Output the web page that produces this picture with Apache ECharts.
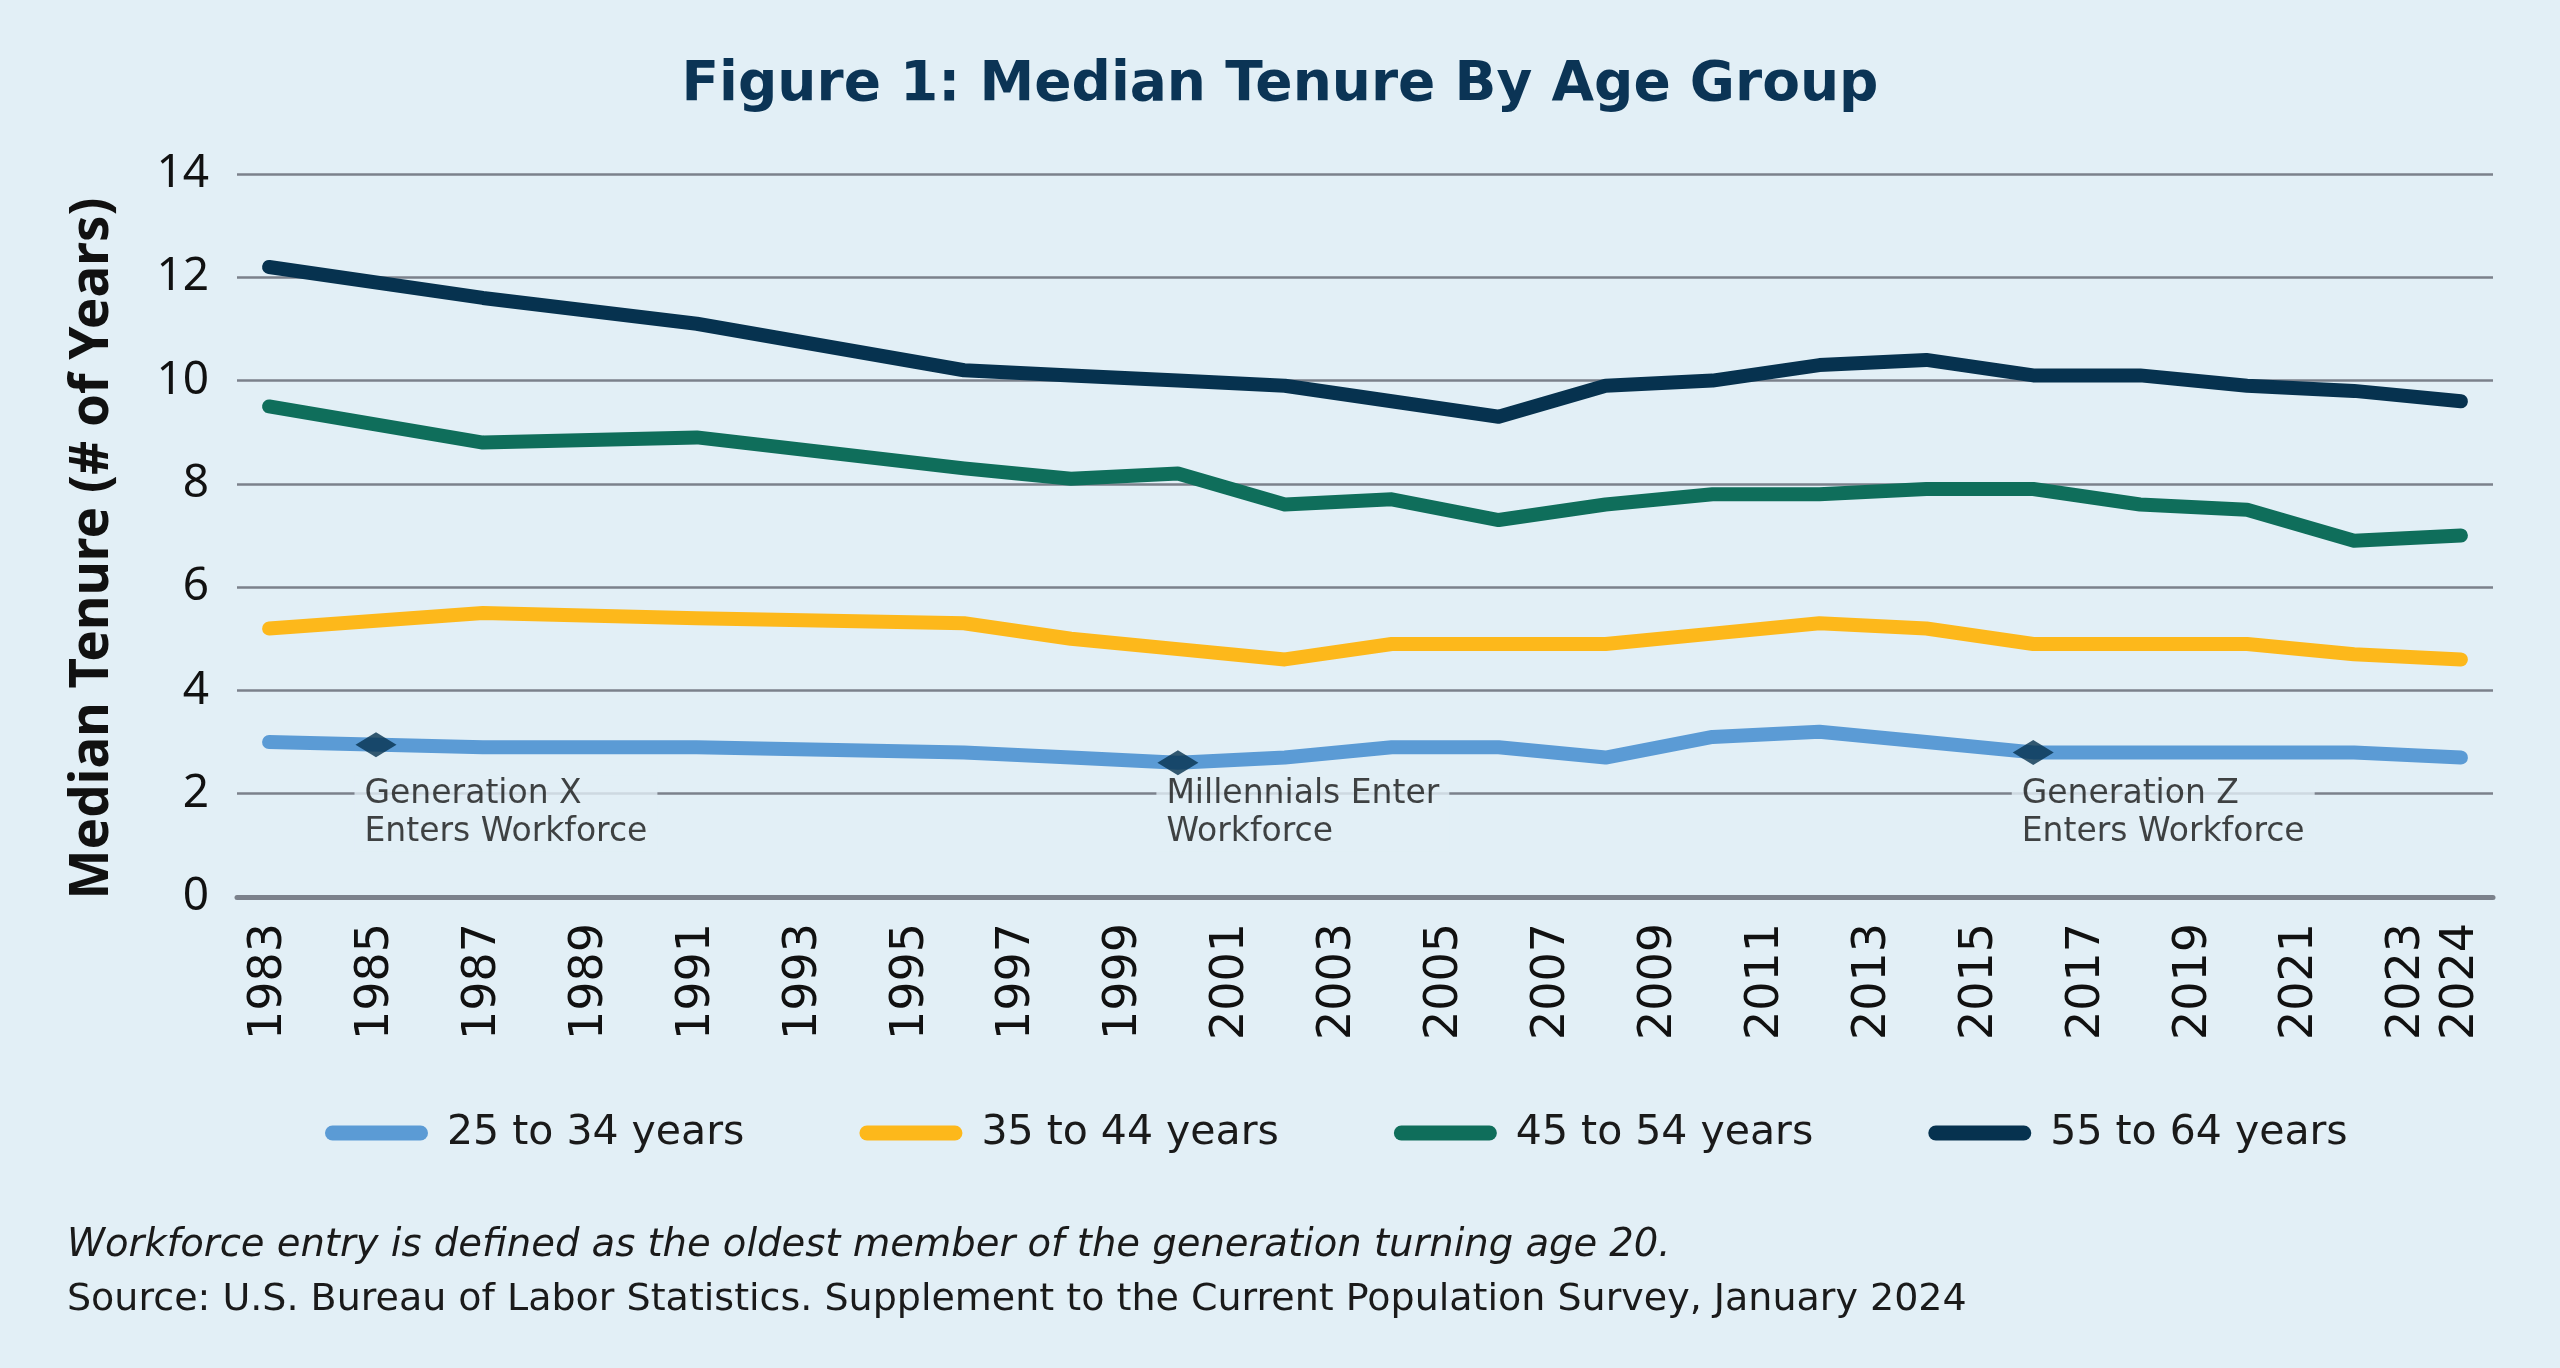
<!DOCTYPE html>
<html>
<head>
<meta charset="utf-8">
<style>
html,body{margin:0;padding:0;background:#e2eff6;}
#chart{width:2560px;height:1368px;}
</style>
<script src="https://cdn.jsdelivr.net/npm/echarts@6/dist/echarts.min.js"></script>
</head>
<body>
<div id="chart"></div>
<script>
// ---- data ----
const years = [1983, 1987, 1991, 1996, 1998, 2000, 2002, 2004, 2006, 2008, 2010, 2012, 2014, 2016, 2018, 2020, 2022, 2024];
const age25to34 = [3.0, 2.9, 2.9, 2.8, 2.7, 2.6, 2.7, 2.9, 2.9, 2.7, 3.1, 3.2, 3.0, 2.8, 2.8, 2.8, 2.8, 2.7];
const age35to44 = [5.2, 5.5, 5.4, 5.3, 5.0, 4.8, 4.6, 4.9, 4.9, 4.9, 5.1, 5.3, 5.2, 4.9, 4.9, 4.9, 4.7, 4.6];
const age45to54 = [9.5, 8.8, 8.9, 8.3, 8.1, 8.2, 7.6, 7.7, 7.3, 7.6, 7.8, 7.8, 7.9, 7.9, 7.6, 7.5, 6.9, 7.0];
const age55to64 = [12.2, 11.6, 11.1, 10.2, 10.1, 10.0, 9.9, 9.6, 9.3, 9.9, 10.0, 10.3, 10.4, 10.1, 10.1, 9.9, 9.8, 9.6];
const seriesNames = ['25 to 34 years', '35 to 44 years', '45 to 54 years', '55 to 64 years'];
const xTickLabels = [1983, 1985, 1987, 1989, 1991, 1993, 1995, 1997, 1999, 2001, 2003, 2005, 2007, 2009, 2011, 2013, 2015, 2017, 2019, 2021, 2023, 2024];
const markerYears = [1985, 2000, 2016];
const markerValues = [2.95, 2.6, 2.8];
const annotationY = 2;
const annotationTexts = ['Generation X\nEnters Workforce', 'Millennials Enter\nWorkforce', 'Generation Z\nEnters Workforce'];

// ---- styles ----
const BG = '#e2eff6';
const colors = ['#5b9bd5', '#fdb81b', '#0f6e5b', '#06324f'];
const NAVY = '#0b3455';
const GRIDC = '#7b818b';
const pill = 'path://M7.5,0 H95.5 A7.5,7.5 0 0 1 95.5,15 H7.5 A7.5,7.5 0 0 1 7.5,0 Z';
const FONT = "'Noto Sans', sans-serif";
const WIDE = "'DejaVu Sans', sans-serif";

const allSeries = [age25to34, age35to44, age45to54, age55to64];
const lineSeries = allSeries.map((vals, i) => ({
  name: seriesNames[i],
  type: 'line',
  data: years.map((y, j) => [y, vals[j]]),
  showSymbol: false,
  symbol: 'none',
  z: 3,
  lineStyle: { width: 14, color: colors[i], cap: 'round', join: 'round' },
  itemStyle: { color: colors[i] },
  emphasis: { disabled: true },
  silent: true
}));

const chart = echarts.init(document.getElementById('chart'), null, { renderer: 'canvas' });
chart.setOption({
  backgroundColor: BG,
  animation: false,
  title: [
    {
      text: '{b|Figure 1: }{m|Median Tenure By Age Group}',
      left: 'center',
      top: 53,
      textStyle: {
        rich: {
          b: { fontFamily: WIDE, fontWeight: 'bold', fontSize: 55, color: NAVY },
          m: { fontFamily: WIDE, fontWeight: 'bold', fontSize: 55, color: NAVY }
        }
      }
    },
    {
      text: 'Workforce entry is defined as the oldest member of the generation turning age 20.',
      left: 62,
      top: 1221,
      textStyle: { fontFamily: WIDE, fontStyle: 'italic', fontWeight: 'normal', fontSize: 38.5, color: '#1a1a1a' }
    },
    {
      text: 'Source: U.S. Bureau of Labor Statistics. Supplement to the Current Population Survey, January 2024',
      left: 62,
      top: 1276,
      textStyle: { fontFamily: WIDE, fontWeight: 'normal', fontSize: 38, color: '#1a1a1a' }
    }
  ],
  legend: {
    data: seriesNames,
    left: 320,
    top: 1105,
    icon: pill,
    itemWidth: 103,
    itemHeight: 15,
    itemGap: 115,
    selectedMode: false,
    textStyle: { fontFamily: WIDE, fontSize: 41, color: '#1a1a1a', padding: [0, 0, 0, 14], lineHeight: 46 }
  },
  grid: { left: 237, right: 67, top: 174, bottom: 471, containLabel: false },
  xAxis: {
    type: 'value',
    min: 1982.4,
    max: 2024.6,
    splitLine: { show: false },
    axisTick: { show: false },
    axisLine: { show: true, lineStyle: { color: GRIDC, width: 5 } },
    axisLabel: {
      customValues: xTickLabels,
      rotate: 90,
      margin: 26,
      fontFamily: WIDE,
      fontSize: 46,
      color: '#111111',
      formatter: v => String(v)
    }
  },
  yAxis: {
    type: 'value',
    min: 0,
    max: 14,
    interval: 2,
    name: 'Median Tenure (# of Years)',
    nameLocation: 'middle',
    nameGap: 118,
    nameTextStyle: { fontFamily: FONT, fontWeight: 700, fontSize: 53, color: '#111111', padding: [0, 26, 0, 0] },
    axisLine: { show: false },
    axisTick: { show: false },
    axisLabel: { fontFamily: FONT, fontSize: 46, color: '#111111', margin: 28 },
    splitLine: { show: true, lineStyle: { color: GRIDC, width: 2.5 } }
  },
  series: [
    {
      name: 'annotations',
      type: 'scatter',
      z: 2,
      silent: true,
      symbolSize: 1,
      itemStyle: { color: 'rgba(0,0,0,0)' },
      data: markerYears.map((y, i) => ({ value: [y, annotationY], label: { formatter: annotationTexts[i] } })),
      label: {
        show: true,
        position: 'right',
        distance: 0,
        offset: [-22, 20],
        align: 'left',
        fontFamily: WIDE,
        fontWeight: 'normal',
        fontSize: 33,
        lineHeight: 38,
        color: '#151515',
        backgroundColor: BG,
        padding: [0, 10, 0, 10]
      }
    },
    ...lineSeries,
    {
      name: 'markers',
      type: 'scatter',
      z: 5,
      silent: true,
      symbol: 'diamond',
      symbolSize: [41, 25],
      itemStyle: { color: '#06324f' },
      data: markerYears.map((y, i) => [y, markerValues[i]])
    }
  ]
});
</script>
</body>
</html>
